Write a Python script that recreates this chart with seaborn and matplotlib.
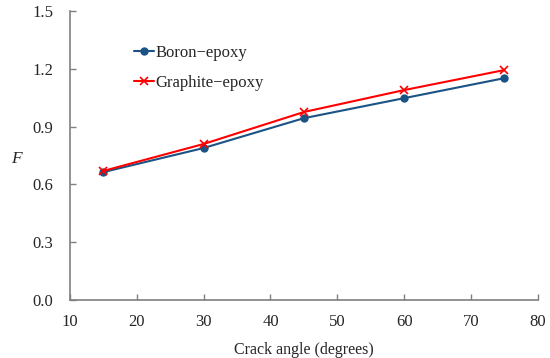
import matplotlib
import matplotlib.pyplot as plt
import seaborn as sns

matplotlib.use("Agg")

crack_angle = [15, 30, 45, 60, 75]
boron_epoxy = [0.664, 0.789, 0.944, 1.048, 1.152]
graphite_epoxy = [0.670, 0.810, 0.976, 1.090, 1.194]

sns.set_style("white")
plt.rcParams["font.family"] = ["Liberation Serif", "DejaVu Serif"]

fig = plt.figure(figsize=(5.5, 3.58), dpi=100)
ax = fig.add_axes([0.127, 0.162, 0.851, 0.807])

sns.lineplot(x=crack_angle, y=boron_epoxy, color="#1A5384", marker="o",
             markersize=6, markeredgewidth=0, linewidth=1.5,
             label="Boron\u2212epoxy", ax=ax)
sns.lineplot(x=crack_angle, y=graphite_epoxy, color="#FF0000", marker="x",
             markersize=5.5, markeredgewidth=1.2, markeredgecolor="#FF0000",
             linewidth=1.5, label="Graphite\u2212epoxy", ax=ax)

ax.set_xlim(10, 80)
ax.set_ylim(0, 1.5)
ax.set_xticks(range(10, 81, 10))
yt = [0.0, 0.3, 0.6, 0.9, 1.2, 1.5]
ax.set_yticks(yt)
ax.set_yticklabels([f"{v:.1f}" for v in yt])
ax.tick_params(axis="both", direction="in", length=4, width=1, color="#7f7f7f",
               labelsize=12, bottom=True, left=True)
ax.tick_params(axis="x", pad=10)
ax.tick_params(axis="y", pad=12)
for side in ["top", "right"]:
    ax.spines[side].set_visible(False)
for side in ["left", "bottom"]:
    ax.spines[side].set_color("#7f7f7f")
    ax.spines[side].set_linewidth(1.2)

ax.set_xlabel("Crack angle (degrees)", fontsize=11.5, labelpad=9)
fig.text(0.02, 0.555, "F", fontsize=12.5, style="italic", va="center", ha="left")

ax.legend(loc="upper left", bbox_to_anchor=(0.122, 0.905), frameon=False,
          fontsize=12, handlelength=1.2, handletextpad=0.1,
          labelspacing=0.8, borderaxespad=0)

fig.savefig("out.png", dpi=100)
